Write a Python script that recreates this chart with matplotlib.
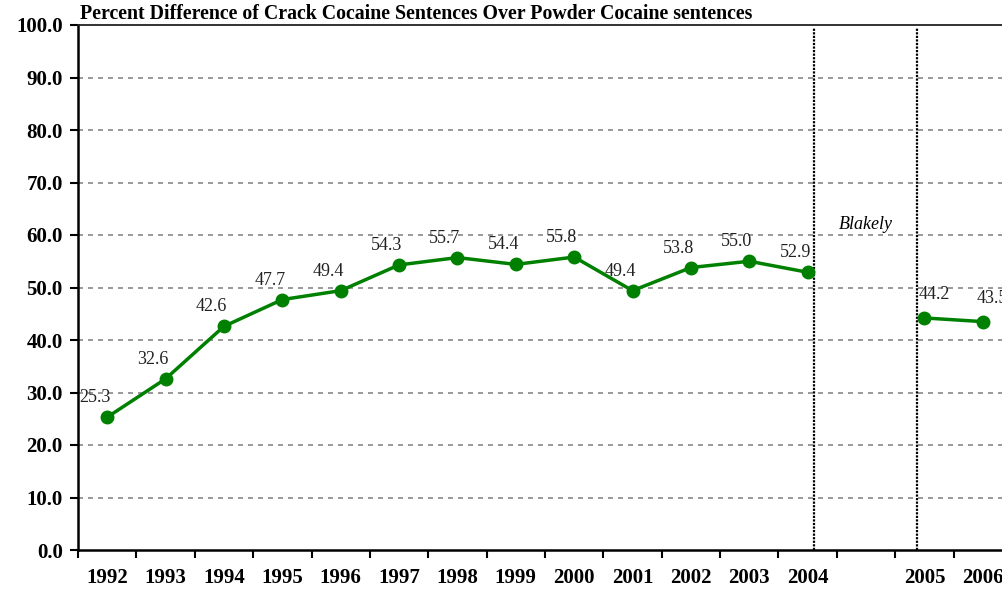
import matplotlib
matplotlib.use("Agg")
import matplotlib.pyplot as plt

# data
years = ["1992", "1993", "1994", "1995", "1996", "1997", "1998", "1999",
         "2000", "2001", "2002", "2003", "2004", "", "2005", "2006"]
pct_before = [25.3, 32.6, 42.6, 47.7, 49.4, 54.3, 55.7, 54.4, 55.8, 49.4,
              53.8, 55.0, 52.9]
pct_after = [44.2, 43.5]
title = "Percent Difference of Crack Cocaine Sentences Over Powder Cocaine sentences"

plt.rcParams['font.family'] = ['Liberation Serif', 'DejaVu Serif']

fig = plt.figure(figsize=(10.03, 5.9), dpi=100)
# plot area runs off the right edge like the original
ax = fig.add_axes([78/1003., 40/590., 934/1003., 525/590.])

x_before = list(range(len(pct_before)))
x_after = [years.index("2005"), years.index("2006")]

green = '#008000'
ax.plot(x_before, pct_before, color=green, lw=2.5, marker='o', ms=9, zorder=4, clip_on=False)
ax.plot(x_after, pct_after, color=green, lw=2.5, marker='o', ms=9, zorder=4, clip_on=False)

for xi, v in zip(x_before, pct_before):
    ax.annotate("%.1f" % v, (xi, v), xytext=(-9, 14), textcoords='offset points',
                ha='center', va='center', fontsize=13, color='#222222')
for xi, v in zip(x_after, pct_after):
    ax.annotate("%.1f" % v, (xi, v), xytext=(7, 17), textcoords='offset points',
                ha='center', va='center', fontsize=13, color='#222222')

# Blakely period markers
ax.axvline(12.1, ymin=0, ymax=0.995, color='black', lw=1.6, ls=(0, (1, 0.6)), zorder=3)
ax.axvline(13.88, ymin=0, ymax=0.995, color='black', lw=1.6, ls=(0, (1, 0.6)), zorder=3)
ax.text(13.0, 62, "Blakely", style='italic', fontsize=13, ha='center', va='center')

ax.set_xlim(-0.5, len(years) - 0.5)
ax.set_ylim(0, 100)

yt = [i * 10 for i in range(11)]
ax.set_yticks(yt)
ax.set_yticklabels(["%.1f" % v for v in yt], fontsize=15, fontweight='bold')
ax.set_xticks(range(len(years)))
ax.set_xticklabels(years, fontsize=15, fontweight='bold')
ax.set_xticks([i - 0.5 for i in range(len(years) + 1)], minor=True)
ax.tick_params(axis='x', which='major', length=0, pad=13)
ax.tick_params(axis='x', which='minor', length=6, width=1.5, direction='out')
ax.tick_params(axis='y', length=6, width=1.5, direction='out', pad=5)

for v in yt[1:-1]:
    ax.axhline(v, color='#888888', lw=1.2, ls=(0, (3, 3)), zorder=1)

ax.spines['right'].set_visible(False)
ax.spines['left'].set_linewidth(1.8)
ax.spines['bottom'].set_linewidth(1.8)
ax.spines['top'].set_linewidth(1.3)
ax.spines['top'].set_color('#222222')

fig.text(80/1003., 1 - 14/590., title, fontsize=14.3, fontweight='bold', ha='left', va='center')

fig.savefig("out.png", dpi=100)
